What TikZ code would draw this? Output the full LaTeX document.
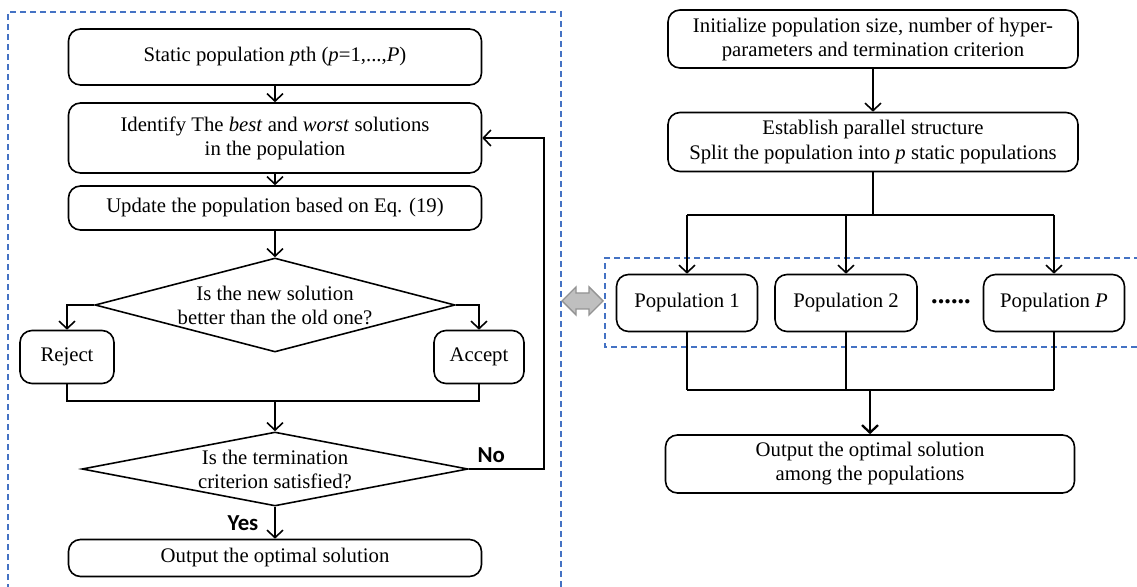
\documentclass[tikz,border=0pt]{standalone}
\usepackage{fontspec}
\setmainfont{Liberation Serif}
\newfontfamily\yesnofont{Carlito}
\usetikzlibrary{arrows.meta}
\usetikzlibrary{shapes.geometric}
\usetikzlibrary{positioning}
\definecolor{frameblue}{HTML}{4472C4}

\begin{document}
\begin{tikzpicture}[x=0.2mm, y=-0.2mm, line width=0.9pt,
	>={Straight Barb[length=1.5mm,width=3.2mm]},
	stepbox/.style={draw, rounded corners=2.4mm, align=center, inner sep=0pt, font=\fontsize{11.8}{13.7}\selectfont},
	decision/.style={draw, diamond, inner sep=0pt, align=center, font=\fontsize{11.8}{13.7}\selectfont},
	answer/.style={font=\yesnofont\bfseries\fontsize{13}{15}\selectfont},
	frame/.style={draw=frameblue, line width=0.9pt, dash pattern=on 1.2mm off 0.8mm}]
	\useasboundingbox (0,0) rectangle (1137,587);
	\draw [frame] (8,600) -- (8,12) -- (561,12) -- (561,600);
	\draw [frame] (1140,258) -- (605,258) -- (605,347) -- (1140,347);

	\node [stepbox, minimum width=82.6mm, minimum height=11.2mm] (static) at (275,57) {Static population \textit{p}th (\textit{p}=1,...,\textit{P})};
	\node [stepbox, minimum width=82.6mm, minimum height=14mm] (identify) at (275,138) {Identify The \textit{best} and \textit{worst} solutions\\in the population};
	\node [stepbox, minimum width=82.6mm, minimum height=8.8mm] (update) at (275,208) {Update the population based on Eq. (19)};
	\node [decision, aspect=3.83, minimum width=72mm, minimum height=18.8mm] (better) at (275,305) {Is the new solution\\better than the old one?};
	\node [stepbox, minimum width=18.8mm, minimum height=10.6mm] (reject) at (67,357) {Reject};
	\node [stepbox, minimum width=18mm, minimum height=10.6mm] (accept) at (479,357) {Accept};
	\coordinate (merge) at (275,401);
	\node [decision, aspect=5.2, minimum width=77.2mm, minimum height=14.8mm] (stop) at (275,469) {Is the termination\\criterion satisfied?};
	\node [stepbox, minimum width=82.6mm, minimum height=7.4mm] (output) at (275,558) {Output the optimal solution};

	\draw [->] (static) -- (identify);
	\draw [->] (identify) -- (update);
	\draw [->] (update) -- (better);
	\draw [->] (better.west) -| (reject);
	\draw [->] (better.east) -| (accept);
	\draw (reject.south) |- (merge) -| (accept.south);
	\draw [->] (merge) -- (stop);
	\draw [->] (stop) -- node [answer, left=2mm] {Yes} (output);
	\draw [->] (stop.east) -- node [answer, above, pos=0.3] {No} ++(75,0) |- (identify.east);

	\node [stepbox, minimum width=82mm, minimum height=11.6mm] (init) at (873,39) {Initialize population size, number of hyper-\\parameters and termination criterion};
	\node [stepbox, minimum width=82mm, minimum height=11.8mm] (split) at (873,142) {Establish parallel structure\\Split the population into \textit{p} static populations};
	\coordinate (fork) at (873,215);
	\node [stepbox, minimum width=28.2mm, minimum height=11.4mm] (pop1) at (687,303) {Population 1};
	\node [stepbox, minimum width=28.4mm, minimum height=11.4mm] (pop2) at (846,303) {Population 2};
	\node [stepbox, minimum width=28.2mm, minimum height=11.4mm] (popP) at (1054,303) {Population \textit{P}};
	\node [font=\bfseries\fontsize{15}{15}\selectfont] (dots) at (951,302) {......};
	\coordinate (join) at (870,390);
	\node [stepbox, minimum width=81.8mm, minimum height=11.6mm] (final) at (870,464) {Output the optimal solution\\among the populations};
	\filldraw [draw=gray!85, fill=gray!50, line width=0.8pt, line join=miter] (562,301) -- (576,287) -- (576,293) -- (589,293) -- (589,287) -- (603,301) -- (589,315) -- (589,309) -- (576,309) -- (576,315) -- cycle;

	\draw [->] (init) -- (split);
	\draw [line width=1.3pt] (split) -- (fork);
	\draw (pop1 |- fork) -- (popP |- fork);
	\foreach \pop in {pop1,pop2,popP}
		\draw [->] (\pop |- fork) -- (\pop);
	\foreach \pop in {pop1,pop2,popP}
		\draw (\pop) -- (\pop |- join);
	\draw (pop1 |- join) -- (popP |- join);
	\draw [->, line width=1.3pt] (join) -- (final);
\end{tikzpicture}
\end{document}
